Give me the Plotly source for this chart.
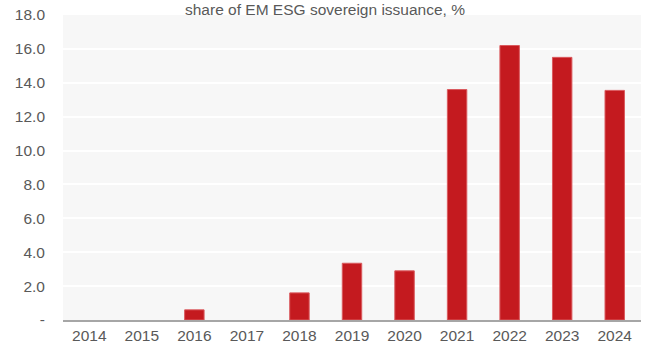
import plotly.graph_objects as go

years = ["2014", "2015", "2016", "2017", "2018", "2019", "2020", "2021", "2022", "2023", "2024"]
share = [0, 0, 0.6, 0, 1.6, 3.35, 2.9, 13.6, 16.2, 15.5, 13.55]
tick_vals = [0, 2, 4, 6, 8, 10, 12, 14, 16, 18]
tick_text = ["-", "2.0", "4.0", "6.0", "8.0", "10.0", "12.0", "14.0", "16.0", "18.0"]
title_text = "share of EM ESG sovereign issuance, %"

W, H = 649, 347
ML, MR, MT, MB = 63, 8, 15, 27
plot_h = H - MT - MB

fig = go.Figure(go.Bar(
    x=years, y=share,
    marker=dict(color="#C41A1F",
                line=dict(color="#DA5A5E", width=[1 if v > 0 else 0 for v in share])),
))

fig.update_layout(
    width=W, height=H,
    margin=dict(l=ML, r=MR, t=MT, b=MB, autoexpand=False),
    paper_bgcolor="white", plot_bgcolor="#F7F7F7",
    bargap=0.63,
    showlegend=False,
    font=dict(family="Liberation Sans, Arial, sans-serif", size=15.5, color="#595959"),
    annotations=[dict(text=title_text, xref="paper", yref="paper",
                      x=(325 - ML) / (W - ML - MR), y=1 + 6 / plot_h,
                      xanchor="center", yanchor="middle", showarrow=False,
                      font=dict(size=15.5, color="#595959"))],
)
fig.update_xaxes(showline=True, linecolor="#A6A6A6", linewidth=2, ticks="", showgrid=False,
                 automargin=False, tickfont=dict(size=15.5, color="#595959"))
fig.update_yaxes(range=[0, 18], tickvals=tick_vals, ticktext=tick_text, showgrid=True,
                 gridcolor="white", gridwidth=1.5, zeroline=False, ticks="", automargin=False,
                 tickfont=dict(size=15.5, color="#595959"), ticklabelstandoff=17)

fig.write_html("out.html", config={"displayModeBar": False},
               post_script="document.body.style.margin='0';")
